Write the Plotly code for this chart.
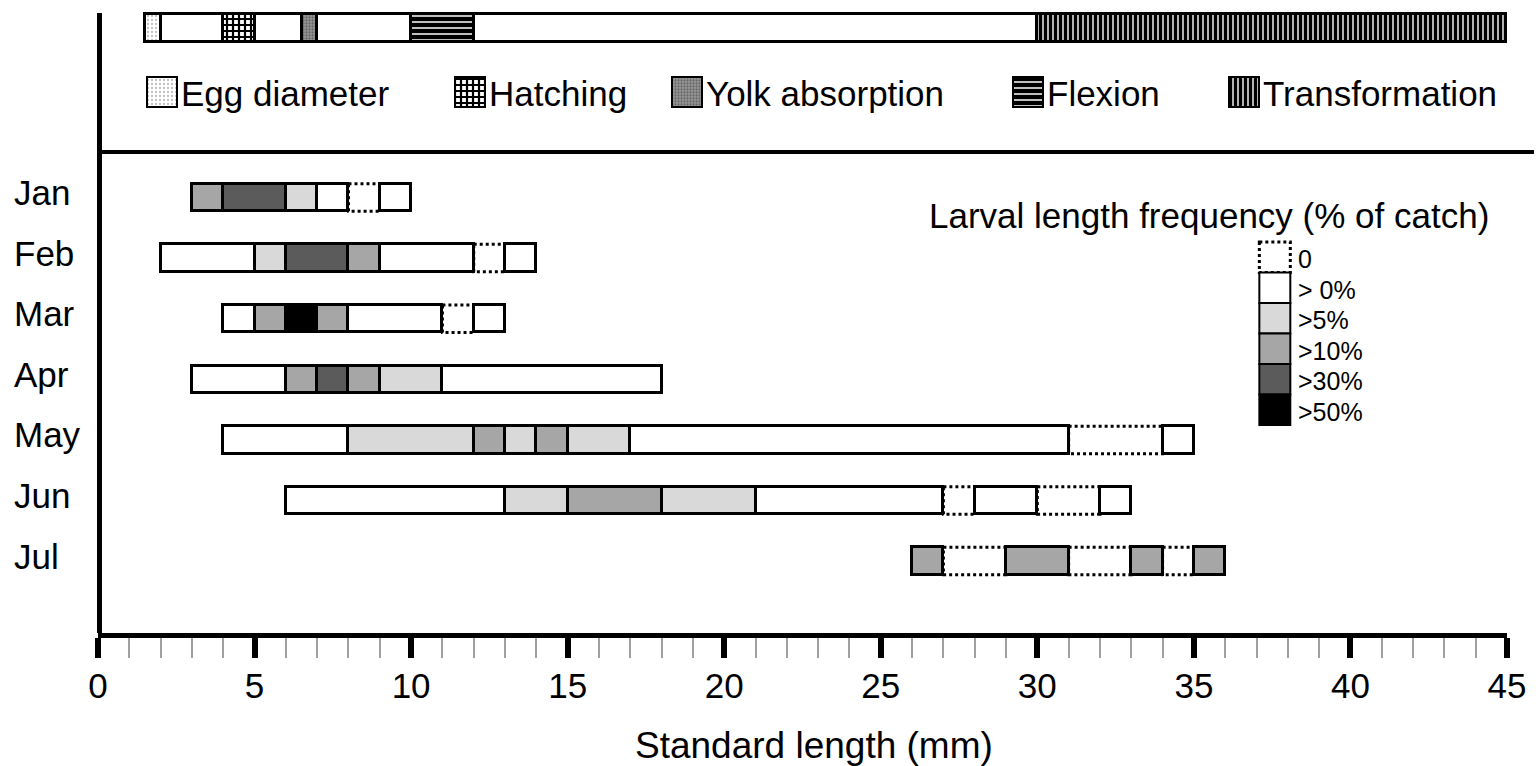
import plotly.graph_objects as go

FONT = "Liberation Sans, Arial, sans-serif"

months = ["Jan", "Feb", "Mar", "Apr", "May", "Jun", "Jul"]

# Segment boundaries (mm) and the frequency class of each segment, per month
jan_edges = [3, 4, 6, 7, 8, 9, 10]
jan_class = [">10%", ">30%", ">5%", ">0%", "0", ">0%"]
feb_edges = [2, 5, 6, 8, 9, 12, 13, 14]
feb_class = [">0%", ">5%", ">30%", ">10%", ">0%", "0", ">0%"]
mar_edges = [4, 5, 6, 7, 8, 11, 12, 13]
mar_class = [">0%", ">10%", ">50%", ">10%", ">0%", "0", ">0%"]
apr_edges = [3, 6, 7, 8, 9, 11, 18]
apr_class = [">0%", ">10%", ">30%", ">10%", ">5%", ">0%"]
may_edges = [4, 8, 12, 13, 14, 15, 17, 31, 34, 35]
may_class = [">0%", ">5%", ">10%", ">5%", ">10%", ">5%", ">0%", "0", ">0%"]
jun_edges = [6, 13, 15, 18, 21, 27, 28, 30, 32, 33]
jun_class = [">0%", ">5%", ">10%", ">5%", ">0%", "0", ">0%", "0", ">0%"]
jul_edges = [26, 27, 29, 31, 33, 34, 35, 36]
jul_class = [">10%", "0", ">10%", "0", ">10%", "0", ">10%"]

freq_classes = ["0", ">0%", ">5%", ">10%", ">30%", ">50%"]
freq_labels = ["0", "> 0%", ">5%", ">10%", ">30%", ">50%"]
freq_colors = ["white", "white", "#d9d9d9", "#a6a6a6", "#5b5b5b", "black"]

# Developmental stages (mm)
stage_names = ["Egg diameter", "Hatching", "Yolk absorption", "Flexion", "Transformation"]
stage_start = [1.5, 4, 6.5, 10, 30]
stage_end = [2, 5, 7, 12, 45]
stage_span = [1.5, 45]

x_ticks = [0, 5, 10, 15, 20, 25, 30, 35, 40, 45]

stage_patterns = [
    dict(shape=".", fgcolor="#808080", bgcolor="white", size=4, solidity=0.25),
    dict(shape="+", fgcolor="black", bgcolor="white", size=6, solidity=0.6, fgopacity=1),
    dict(shape=".", fgcolor="#333333", bgcolor="#9a9a9a", size=3, solidity=0.45),
    dict(shape="-", fgcolor="black", bgcolor="white", size=6, solidity=0.75, fgopacity=1),
    dict(shape="|", fgcolor="black", bgcolor="white", size=5, solidity=0.72, fgopacity=1),
]

month_edges = [jan_edges, feb_edges, mar_edges, apr_edges, may_edges, jun_edges, jul_edges]
month_class = [jan_class, feb_class, mar_class, apr_class, may_class, jun_class, jul_class]

# page geometry (pixels)
W, H = 1536, 766
L, R, T, B = 98, 27, 10, 133
PW, PH = W - L - R, H - T - B
plot_top, plot_bot = T, H - B
row0_px, row_px = 197.5, 60.6
y_lo = -(row0_px - plot_top) / row_px
y_hi = y_lo + (plot_bot - plot_top) / row_px
bar_w = 27.5 / row_px


def px_x(px):
    return (px - L) / PW


def px_y(py):
    return (plot_bot - py) / PH


fig = go.Figure()

# top stage bar (x in mm, y on the pixel axis)
fig.add_trace(go.Bar(
    x=[stage_span[1] - stage_span[0]], base=[stage_span[0]], y=[28.3], width=[28],
    orientation="h", xaxis="x", yaxis="y2",
    marker=dict(color="white", line=dict(color="black", width=3)),
    showlegend=False, hoverinfo="skip"))
for name, s, e, pat in zip(stage_names, stage_start, stage_end, stage_patterns):
    fig.add_trace(go.Bar(
        x=[e - s], base=[s], y=[28.3], width=[28], orientation="h",
        xaxis="x", yaxis="y2", name=name,
        marker=dict(color="white", pattern=pat, line=dict(color="black", width=3)),
        showlegend=False, hoverinfo="skip"))

# stage legend swatches (pixel axes)
stage_key_x = [146, 455, 672, 1013, 1230]
for name, kx, pat in zip(stage_names, stage_key_x, stage_patterns):
    fig.add_trace(go.Bar(
        x=[30], base=[kx + 1], y=[92], width=[30], orientation="h",
        xaxis="x2", yaxis="y2",
        marker=dict(color="white", pattern=pat, line=dict(color="black", width=2)),
        showlegend=False, hoverinfo="skip"))

shapes = []
# zero-catch segments: dotted outline
for i, (edges, cls) in enumerate(zip(month_edges, month_class)):
    for a, b, c in zip(edges[:-1], edges[1:], cls):
        if c == "0":
            shapes.append(dict(type="rect", xref="x", yref="y", x0=a, x1=b,
                               y0=i - bar_w / 2, y1=i + bar_w / 2, layer="below",
                               line=dict(color="black", width=3, dash="dot"),
                               fillcolor="white"))

# month bars, one trace per frequency class
for cls, col in zip(freq_classes[1:], freq_colors[1:]):
    ys, bases, widths = [], [], []
    for i, (edges, mc) in enumerate(zip(month_edges, month_class)):
        for a, b, c in zip(edges[:-1], edges[1:], mc):
            if c == cls:
                ys.append(i)
                bases.append(a)
                widths.append(b - a)
    fig.add_trace(go.Bar(
        x=widths, base=bases, y=ys, width=bar_w, orientation="h",
        xaxis="x", yaxis="y", name=cls,
        marker=dict(color=col, line=dict(color="black", width=3)),
        showlegend=False, hoverinfo="skip"))

# axis frame lines
shapes.append(dict(type="line", xref="paper", yref="y2", x0=px_x(99.5), x1=px_x(99.5),
                   y0=13, y1=636, line=dict(color="black", width=5)))
shapes.append(dict(type="line", xref="paper", yref="y2", x0=0, x1=px_x(W),
                   y0=152, y1=152, line=dict(color="black", width=4)))

# frequency key
key_x0, key_x1, key_top, key_h = 1261, 1292, 242, 30.5
annotations = []
for k, (lab, col) in enumerate(zip(freq_labels, freq_colors)):
    y0 = key_top + k * key_h
    shapes.append(dict(type="rect", xref="x2", yref="y2", x0=key_x0, x1=key_x1,
                       y0=y0, y1=y0 + key_h, fillcolor=col,
                       line=dict(color="black", width=3 if k == 0 else 2,
                                 dash="dot" if k == 0 else "solid")))
    annotations.append(dict(xref="x2", yref="y2", x=key_x1 + 6, y=y0 + key_h / 2 + 2,
                            text=lab, showarrow=False, xanchor="left", yanchor="middle",
                            font=dict(size=25, color="black", family=FONT)))
annotations.append(dict(xref="x2", yref="y2", x=928, y=215,
                        text="Larval length frequency (% of catch)", showarrow=False,
                        xanchor="left", yanchor="middle",
                        font=dict(size=35, color="black", family=FONT)))

for name, kx in zip(stage_names, stage_key_x):
    annotations.append(dict(xref="x2", yref="y2", x=kx + 33, y=93, text=name,
                            showarrow=False, xanchor="left", yanchor="middle",
                            font=dict(size=35, color="black", family=FONT)))

for i, m in enumerate(months):
    annotations.append(dict(xref="paper", yref="y", x=px_x(12), y=i - 5 / row_px, text=m,
                            showarrow=False, xanchor="left", yanchor="middle",
                            font=dict(size=35, color="black", family=FONT)))

annotations.append(dict(xref="paper", yref="paper", x=px_x(815), y=px_y(745),
                        text="Standard length (mm)", showarrow=False,
                        xanchor="center", yanchor="middle",
                        font=dict(size=37, color="black", family=FONT)))

fig.update_layout(
    width=W, height=H,
    margin=dict(l=L, r=R, t=T, b=B, pad=0),
    paper_bgcolor="white", plot_bgcolor="white",
    barmode="overlay", bargap=0,
    showlegend=False,
    font=dict(family=FONT, color="black"),
    xaxis=dict(range=[0, 45], tickvals=x_ticks, ticktext=[str(v) for v in x_ticks],
               showline=True, linewidth=5, linecolor="black", ticks="outside",
               ticklen=20, tickwidth=6, tickcolor="black", showgrid=False, zeroline=False,
               tickfont=dict(size=35, family=FONT, color="black"),
               ticklabelstandoff=-2,
               minor=dict(dtick=1, tick0=0, ticks="outside", ticklen=20, tickwidth=2,
                          tickcolor="#a0a0a0", showgrid=False),
               fixedrange=True),
    yaxis=dict(range=[y_hi, y_lo], visible=False, fixedrange=True),
    xaxis2=dict(range=[L, W - R], overlaying="x", anchor="y2", visible=False,
                fixedrange=True),
    yaxis2=dict(range=[plot_bot, plot_top], overlaying="y", anchor="x2", visible=False,
                fixedrange=True),
    shapes=shapes,
    annotations=annotations,
)

fig.write_html("out.html")
